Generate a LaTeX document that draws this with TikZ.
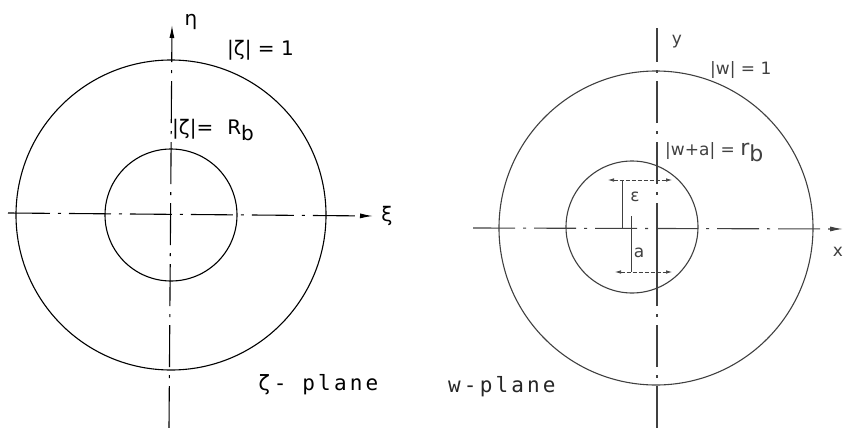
\documentclass[tikz,border=0pt]{standalone}
\usepackage{fontspec}
\setmainfont{DejaVu Sans}
\newfontfamily\monof[LetterSpace=15]{DejaVu Sans Mono}
\usetikzlibrary{arrows.meta}
\begin{document}
\begin{tikzpicture}[x=1pt,y=-1pt,
  axisline/.style={line width=1.1pt, dash pattern=on 42pt off 8pt on 3pt off 8pt},
  circ/.style={line width=1.1pt},
  dimline/.style={line width=0.7pt, dash pattern=on 4pt off 2pt},
  extline/.style={line width=0.9pt},
  tip/.style={-{Latex[length=13pt,width=5pt]}},
  dtip/.style={{Latex[length=6pt,width=3.5pt]}-{Latex[length=6pt,width=3.5pt]}},
  lbl/.style={inner sep=0pt, font=\fontsize{20}{23}\selectfont},
  slbl/.style={inner sep=0pt, font=\fontsize{17}{20}\selectfont},
  plbl/.style={inner sep=0pt, font=\monof\fontsize{21}{24}\selectfont},
  rgt/.style={black!75}]
\useasboundingbox (0,0) rectangle (855,428);
% ---------- left: zeta plane ----------
\coordinate (O1) at (171,215);
\draw[circ] (O1) circle[radius=155];
\draw[circ] (O1) circle[radius=66];
\coordinate (LXs) at (8,213);
\coordinate (LXe) at (373,216);
\coordinate (LYs) at (169,428);
\coordinate (LYe) at (172,25);
\draw[axisline,tip] (LXs) -- (LXe);
\draw[axisline,tip] (LYs) -- (LYe);
\node[lbl] (eta) at (191,22) {η};
\node[lbl] (xi) at (387,216) {ξ};
\node[lbl,anchor=west] (z1) at (227,50) {|ζ| = 1};
\node[lbl,anchor=west] (zR) at (172,130) {|ζ|=\hspace{14pt}R\raisebox{-6pt}{b}};
\node[plbl,anchor=west] (zp) at (258,385) {ζ- plane};
\node[plbl,anchor=west,black!85] (wp) at (448,387) {w-plane};
% ---------- right: w plane ----------
\begin{scope}[rgt]
\coordinate (O2) at (656,228);
\coordinate (C2) at (632,227);
\draw[circ] (O2) circle[radius=157];
\draw[circ] (C2) circle[radius=66];
\coordinate (RXs) at (473,228);
\coordinate (RXe) at (843,229);
\coordinate (RYs) at (657,428);
\coordinate (RYe) at (657,28);
\draw[axisline,tip] (RXs) -- (RXe);
\draw[axisline] (RYs) -- (RYe);
\coordinate (Ya) at (657,228);
\coordinate (Yb) at (657,272);
\draw[line width=1.4pt] (Ya) -- (Yb);
% epsilon dimension
\coordinate (E1) at (622,180);
\coordinate (E2) at (622,228);
\coordinate (EL) at (608,180);
\coordinate (ER) at (672,180);
\draw[extline] (E1) -- (E2);
\draw[dimline,dtip] (EL) -- (ER);
% a dimension
\coordinate (A1) at (631,216);
\coordinate (A2) at (631,272);
\coordinate (AL) at (615,272);
\coordinate (AR) at (672,272);
\draw[extline] (A1) -- (A2);
\draw[dimline,dtip] (AL) -- (AR);
\node[slbl] (eps) at (635,197) {ε};
\node[slbl] (alab) at (639,253) {a};
\node[slbl] (xl) at (838,252) {x};
\node[slbl] (yl) at (677,42) {y};
\node[slbl,anchor=west] (w1) at (710,70) {|w| = 1};
\node[slbl,anchor=west] (wr) at (665,152) {|w+a| = {\fontsize{22}{24}\selectfont r\raisebox{-6pt}{b}}};
\end{scope}
\end{tikzpicture}
\end{document}
